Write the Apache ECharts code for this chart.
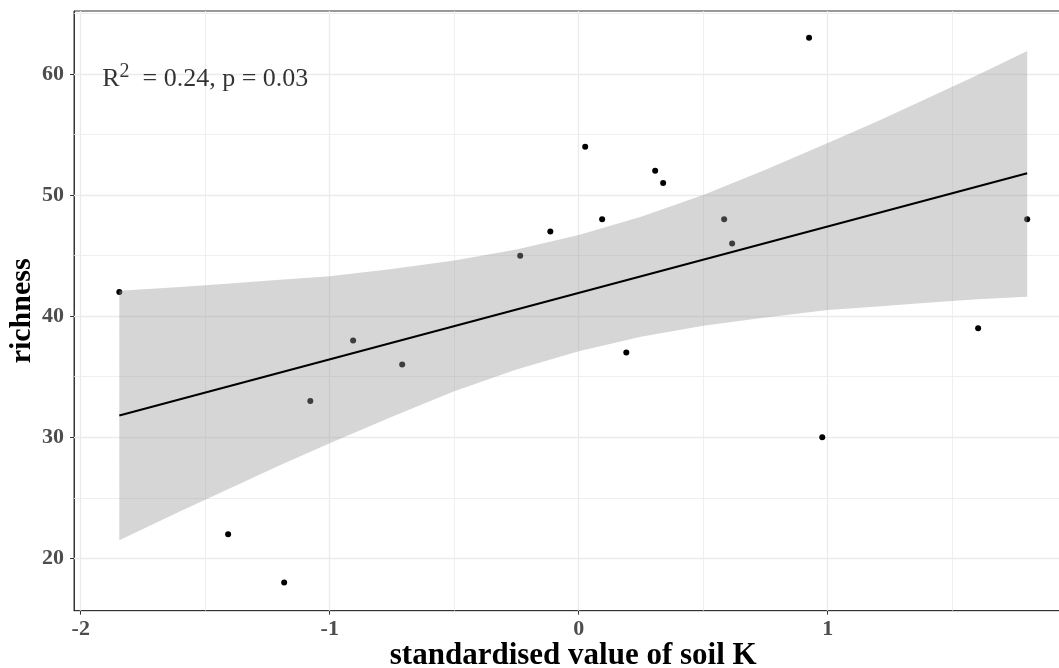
<!DOCTYPE html>
<html>
<head>
<meta charset="utf-8">
<script src="https://cdn.jsdelivr.net/npm/echarts@6/dist/echarts.min.js"></script>
<style>
html,body{margin:0;padding:0;background:#fff;}
#chart{width:1059px;height:668px;}
</style>
</head>
<body>
<div id="chart"></div>
<script>
// ---- data ----
var soilK = [-1.845, -1.408, -1.183, -1.078, -0.906, -0.709, -0.235, -0.114, 0.026, 0.094, 0.191, 0.307, 0.339, 0.584, 0.616, 0.925, 0.978, 1.604, 1.801];
var richness = [42, 22, 18, 33, 38, 36, 45, 47, 54, 48, 37, 52, 51, 48, 46, 63, 30, 39, 48];

// fitted line end points
var fitX = [-1.845, 1.801];
var fitY = [31.8, 51.8];

// confidence ribbon (read along the band)
var ribbonX     = [-1.845, -1.6, -1.4, -1.2, -1.0, -0.75, -0.5, -0.25, 0, 0.25, 0.5, 0.75, 1.0, 1.2, 1.4, 1.6, 1.801];
var ribbonUpper = [42.1, 42.4, 42.7, 43.0, 43.3, 43.9, 44.6, 45.5, 46.7, 48.2, 50.0, 52.1, 54.3, 56.1, 58.0, 59.9, 61.9];
var ribbonLower = [21.5, 23.9, 25.8, 27.7, 29.5, 31.7, 33.8, 35.6, 37.1, 38.3, 39.2, 39.9, 40.5, 40.8, 41.1, 41.4, 41.6];

// axes / grid
var xTicks = [-2, -1, 0, 1];
var xMinor = [-1.5, -0.5, 0.5, 1.5];
var yTicks = [20, 30, 40, 50, 60];
var yMinor = [25, 35, 45, 55, 65];
var xRange = [-2.027, 1.983];
var yRange = [15.68, 65.2];

var annotX = -1.5, annotY = 60;
var annotR2 = '0.24', annotP = '0.03';

// ---- chart ----
var FONT = 'Liberation Serif';
var chart = echarts.init(document.getElementById('chart'), null, {renderer: 'canvas'});

var points = soilK.map(function (x, i) { return [x, richness[i]]; });
var fitData = fitX.map(function (x, i) { return [x, fitY[i]]; });
var ribbonData = ribbonX.map(function (x, i) { return [x, ribbonUpper[i], ribbonLower[i]]; });

var gridLines = [];
xTicks.forEach(function (v) { gridLines.push({xAxis: v, lineStyle: {color: '#EBEBEB', width: 1.3, type: 'solid'}}); });
xMinor.forEach(function (v) { gridLines.push({xAxis: v, lineStyle: {color: '#EBEBEB', width: 0.8, type: 'solid'}}); });
yTicks.forEach(function (v) { gridLines.push({yAxis: v, lineStyle: {color: '#EBEBEB', width: 1.3, type: 'solid'}}); });
yMinor.forEach(function (v) { gridLines.push({yAxis: v, lineStyle: {color: '#EBEBEB', width: 0.8, type: 'solid'}}); });

var option = {
  animation: false,
  backgroundColor: '#ffffff',
  grid: {left: 74, top: 11, width: 998.5, height: 599.7, show: true, borderColor: '#333333', borderWidth: 1,
         backgroundColor: 'transparent', containLabel: false, outerBoundsMode: 'none'},
  xAxis: {
    type: 'value', min: xRange[0], max: xRange[1],
    name: 'standardised value of soil K', nameLocation: 'middle', nameGap: 30, nameMoveOverlap: false,
    nameTextStyle: {fontFamily: FONT, fontWeight: 'bold', fontSize: 31, color: '#000'},
    axisLine: {show: true, onZero: false, lineStyle: {color: '#333333', width: 1}},
    axisTick: {show: true, length: 4, customValues: xTicks, lineStyle: {color: '#333333', width: 1}},
    axisLabel: {customValues: xTicks, margin: 8, fontFamily: FONT, fontWeight: 'bold', fontSize: 22, color: '#4D4D4D',
      formatter: function (v) { return String(v); }},
    splitLine: {show: false}
  },
  yAxis: {
    type: 'value', min: yRange[0], max: yRange[1],
    name: 'richness', nameLocation: 'middle', nameGap: 37, nameMoveOverlap: false,
    nameTextStyle: {fontFamily: FONT, fontWeight: 'bold', fontSize: 30, color: '#000'},
    axisLine: {show: true, onZero: false, lineStyle: {color: '#333333', width: 1}},
    axisTick: {show: true, length: 4, customValues: yTicks, lineStyle: {color: '#333333', width: 1}},
    axisLabel: {customValues: yTicks, margin: 10, fontFamily: FONT, fontWeight: 'bold', fontSize: 22, color: '#4D4D4D'},
    splitLine: {show: false}
  },
  series: [
    {
      name: 'grid', type: 'scatter', data: [], z: 1, silent: true,
      markLine: {z: 1, silent: true, symbol: 'none', label: {show: false}, animation: false, data: gridLines}
    },
    {
      name: 'points', type: 'scatter', data: points, z: 2, symbol: 'circle', symbolSize: 6,
      itemStyle: {color: '#000000', opacity: 1}, silent: true
    },
    {
      name: 'ribbon', type: 'custom', z: 3, silent: true,
      data: ribbonData,
      encode: {x: 0, y: [1, 2]},
      renderItem: function (params, api) {
        if (params.dataIndex !== 0) return;
        var pts = [];
        for (var i = 0; i < ribbonX.length; i++) pts.push(api.coord([ribbonX[i], ribbonUpper[i]]));
        for (var j = ribbonX.length - 1; j >= 0; j--) pts.push(api.coord([ribbonX[j], ribbonLower[j]]));
        return {type: 'polygon', shape: {points: pts}, style: {fill: 'rgba(153,153,153,0.4)'}};
      }
    },
    {
      name: 'fit', type: 'line', data: fitData, z: 4, symbol: 'none', silent: true,
      lineStyle: {color: '#000000', width: 2}
    },
    {
      name: 'annot', type: 'scatter', z: 5, silent: true, symbolSize: 0,
      data: [[annotX, annotY]],
      label: {
        show: true, position: 'inside', color: '#000', offset: [0, 3],
        formatter: '{r|R}{s|2}{r|  = ' + annotR2 + ', p = ' + annotP + '}',
        rich: {
          r: {fontFamily: FONT, fontSize: 26, color: '#000', lineHeight: 30, verticalAlign: 'bottom'},
          s: {fontFamily: FONT, fontSize: 20, color: '#000', lineHeight: 29, verticalAlign: 'top'}
        }
      }
    }
  ]
};
chart.setOption(option);
</script>
</body>
</html>
